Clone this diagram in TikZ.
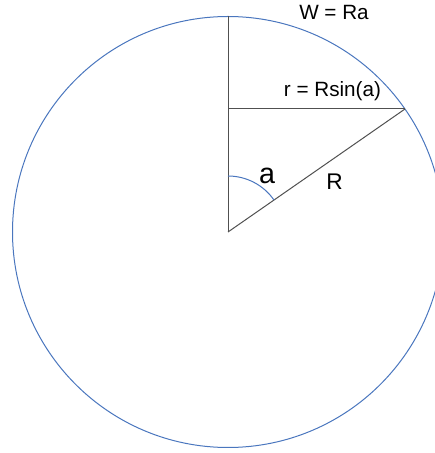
\documentclass[tikz,border=0pt]{standalone}
\usepackage{fontspec}
\setmainfont{Liberation Sans}
\definecolor{circblue}{HTML}{4A76BE}
\definecolor{linegray}{HTML}{505050}
\begin{document}
\begin{tikzpicture}[x=0.75pt,y=0.75pt,
  circ/.style={draw=circblue,line width=0.75pt},
  seg/.style={draw=linegray,line width=0.75pt},
  lbl/.style={anchor=base,inner sep=0pt,font=\fontsize{15.5}{18}\selectfont},
  biglbl/.style={anchor=base,inner sep=0pt,font=\fontsize{21.5}{25}\selectfont}]
\useasboundingbox (0,0) rectangle (435,453);
\clip (0,0) rectangle (435,453);
\coordinate (O) at (228,221);
\coordinate (T) at (228,436.5);
\coordinate (P) at (405,344);
\coordinate (H) at (228,344);
\draw[circ] (O) circle (215.5);
\draw[seg] (O) -- (T);
\draw[seg] (H) -- (P);
\draw[seg] (O) -- (P);
\draw[circ] (228,277) arc[start angle=90,end angle=34.79,radius=56];
\node[lbl] (w) at (334,433) {W = Ra};
\node[lbl] (r) at (332.5,356.3) {r = Rsin(a)};
\node[biglbl] (a) at (267,269.7) {a};
\node[lbl,font=\fontsize{17}{20}\selectfont] (R) at (334.5,263.7) {R};
\end{tikzpicture}
\end{document}
